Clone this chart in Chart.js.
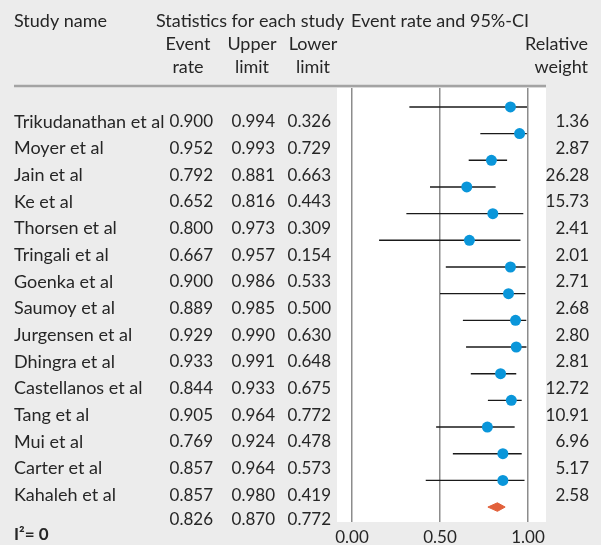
<!DOCTYPE html>
<html>
<head>
<meta charset="utf-8">
<script src="https://cdn.jsdelivr.net/npm/chart.js@4.4.0/dist/chart.umd.min.js"></script>
<style>
  html, body { margin: 0; padding: 0; background: #ececec; }
  #wrap { width: 601px; height: 545px; }
</style>
</head>
<body>
<div id="wrap"><canvas id="forest"></canvas></div>
<script>
const studies = ['Trikudanathan et al', 'Moyer et al', 'Jain et al', 'Ke et al', 'Thorsen et al',
  'Tringali et al', 'Goenka et al', 'Saumoy et al', 'Jurgensen et al', 'Dhingra et al',
  'Castellanos et al', 'Tang et al', 'Mui et al', 'Carter et al', 'Kahaleh et al'];
const eventRate = [0.900, 0.952, 0.792, 0.652, 0.800, 0.667, 0.900, 0.889, 0.929, 0.933, 0.844, 0.905, 0.769, 0.857, 0.857];
const upperLimit = [0.994, 0.993, 0.881, 0.816, 0.973, 0.957, 0.986, 0.985, 0.990, 0.991, 0.933, 0.964, 0.924, 0.964, 0.980];
const lowerLimit = [0.326, 0.729, 0.663, 0.443, 0.309, 0.154, 0.533, 0.500, 0.630, 0.648, 0.675, 0.772, 0.478, 0.573, 0.419];
const weights = ['1.36', '2.87', '26.28', '15.73', '2.41', '2.01', '2.71', '2.68', '2.80', '2.81', '12.72', '10.91', '6.96', '5.17', '2.58'];
const pooled = [0.826, 0.870, 0.772]; // rate, upper, lower
const xTicks = [0, 0.5, 1];

const FONT = 'Lato, sans-serif';
const TEXT = '#262626';

// one line per study for its interval
const ciSets = studies.map((s, i) => ({
  type: 'scatter',
  data: [{x: lowerLimit[i], y: i}, {x: upperLimit[i], y: i}],
  showLine: true,
  borderColor: '#1a1a1a',
  borderWidth: 1.4,
  pointRadius: 0,
  order: 2
}));

const n = studies.length;
const diamond = {
  type: 'scatter',
  data: [
    {x: pooled[2], y: n}, {x: pooled[0], y: n - 0.16},
    {x: pooled[1], y: n}, {x: pooled[0], y: n + 0.16}, {x: pooled[2], y: n}
  ],
  showLine: true,
  fill: 'shape',
  backgroundColor: '#e2603a',
  borderColor: '#e2603a',
  borderWidth: 1,
  pointRadius: 0,
  order: 1
};

const dots = {
  type: 'scatter',
  data: eventRate.map((v, i) => ({x: v, y: i})),
  pointRadius: 5.5,
  pointBackgroundColor: '#0a96da',
  pointBorderWidth: 0,
  order: 0
};

const panel = {
  id: 'panel',
  beforeDraw(chart) {
    const {ctx, chartArea: a} = chart;
    ctx.save();
    ctx.fillStyle = '#ececec';
    ctx.fillRect(0, 0, chart.width, chart.height);
    ctx.fillStyle = '#ffffff';
    ctx.fillRect(a.left, a.top, a.right - a.left, a.bottom - a.top);
    ctx.strokeStyle = '#a3a3a3';
    ctx.lineWidth = 2.5;
    ctx.beginPath();
    ctx.moveTo(14, a.top - 2);
    ctx.lineTo(a.right, a.top - 2);
    ctx.stroke();
    ctx.restore();
  },
  afterDraw(chart) {
    const {ctx} = chart;
    const y = chart.scales.y;
    const words = '18px ' + FONT;
    const nums = '17px ' + FONT;
    ctx.save();
    ctx.fillStyle = TEXT;
    ctx.font = words;
    ctx.textBaseline = 'middle';
    // header
    ctx.textAlign = 'left';
    ctx.fillText('Study name', 14, 21);
    ctx.fillText('Statistics for each study', 156, 21);
    ctx.fillText('Event rate and 95%-CI', 351, 21);
    ctx.textAlign = 'center';
    ctx.fillText('Event', 188, 44);
    ctx.fillText('rate', 188, 67);
    ctx.fillText('Upper', 252, 44);
    ctx.fillText('limit', 252, 67);
    ctx.fillText('Lower', 313, 44);
    ctx.fillText('limit', 313, 67);
    ctx.textAlign = 'right';
    ctx.fillText('Relative', 588, 44);
    ctx.fillText('weight', 588, 67);
    // rows
    studies.forEach((s, i) => {
      const py = y.getPixelForValue(i + 0.56);
      ctx.font = words;
      ctx.textAlign = 'left';
      ctx.fillText(s, 14, py);
      ctx.font = nums;
      ctx.textAlign = 'right';
      ctx.fillText(eventRate[i].toFixed(3), 213, py);
      ctx.fillText(upperLimit[i].toFixed(3), 275, py);
      ctx.fillText(lowerLimit[i].toFixed(3), 331, py);
      ctx.fillText(weights[i], 589, py);
    });
    const sy = y.getPixelForValue(n + 0.45);
    ctx.fillText(pooled[0].toFixed(3), 213, sy);
    ctx.fillText(pooled[1].toFixed(3), 275, sy);
    ctx.fillText(pooled[2].toFixed(3), 331, sy);
    ctx.textAlign = 'left';
    ctx.font = 'bold 17px ' + FONT;
    ctx.fillText('I\u00b2= 0', 14, 535);
    ctx.restore();
  }
};

new Chart(document.getElementById('forest'), {
  type: 'scatter',
  data: { datasets: [...ciSets, diamond, dots] },
  options: {
    responsive: true,
    maintainAspectRatio: false,
    animation: false,
    layout: { padding: { left: 337, right: 55, top: 88, bottom: 0 } },
    plugins: { legend: { display: false }, tooltip: { enabled: false } },
    scales: {
      x: {
        type: 'linear',
        min: -0.085,
        max: 1.102,
        afterBuildTicks: (s) => { s.ticks = xTicks.map(v => ({value: v})); },
        afterFit: (s) => { s.height = 23; },
        grid: { color: '#8c8c8c', lineWidth: 1.5, drawTicks: false },
        border: { display: false },
        ticks: {
          padding: 5,
          color: TEXT,
          font: { family: FONT, size: 17 },
          callback: (v) => Number(v).toFixed(2)
        }
      },
      y: {
        type: 'linear',
        display: false,
        reverse: true,
        min: -0.71,
        max: 15.56
      }
    }
  },
  plugins: [panel]
});
</script>
</body>
</html>
